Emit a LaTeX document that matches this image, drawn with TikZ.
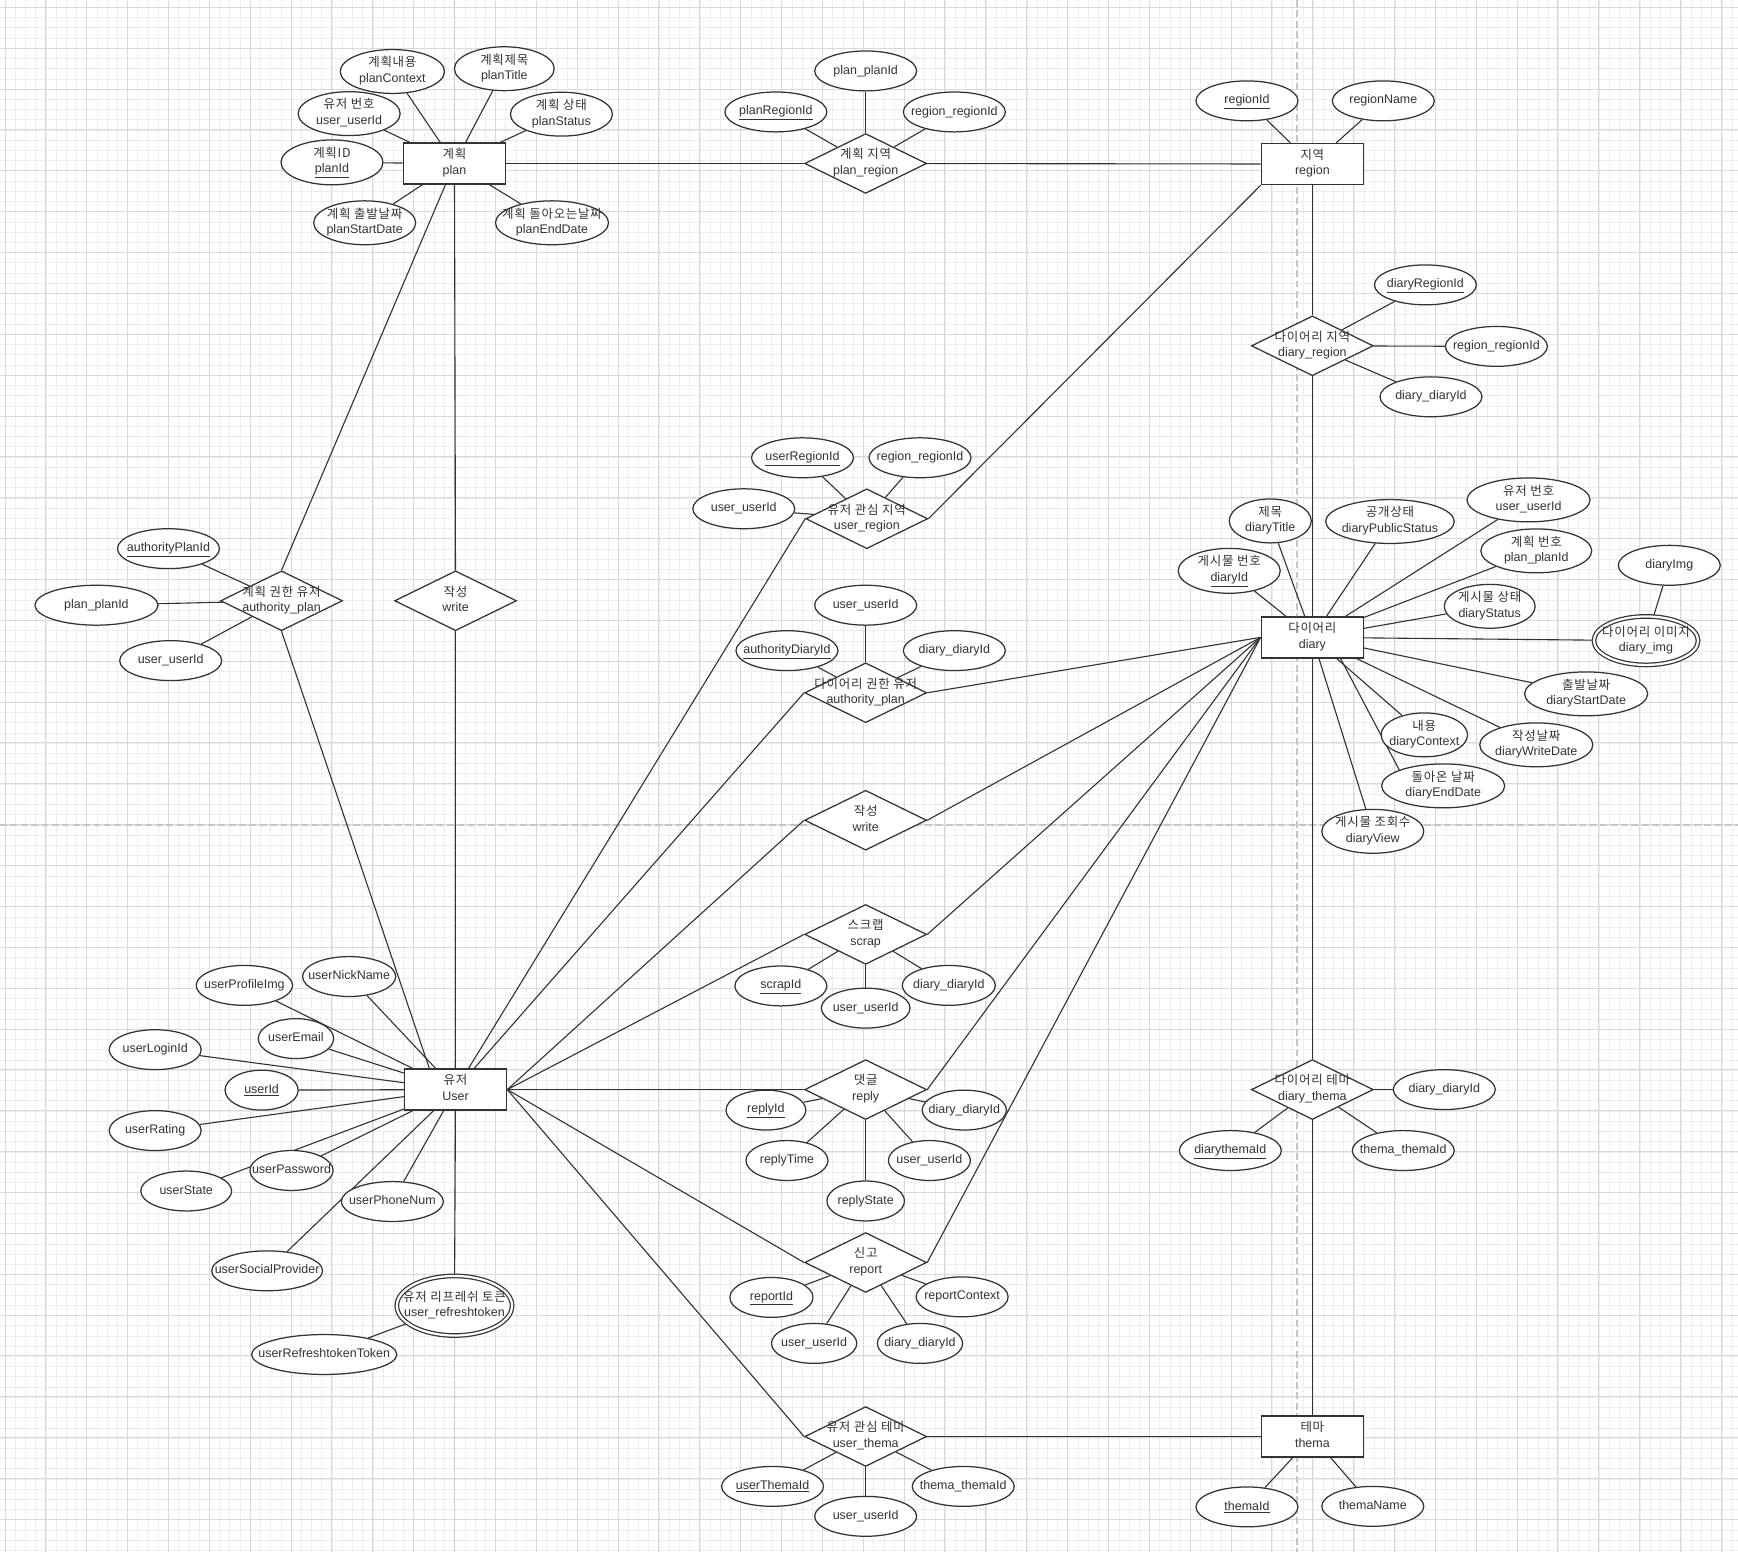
\documentclass[tikz,border=0pt]{standalone}
\usepackage{fontspec}
\setmainfont{Liberation Sans}
\newfontfamily\kr[Scale=1.0,LetterSpace=6]{Noto Sans CJK KR}
\usetikzlibrary{shapes.geometric}
\pgfdeclarelayer{gridlayer}
\pgfdeclarelayer{edges}
\pgfsetlayers{gridlayer,edges,main}

% text of a shape, centred, allowed to run over the border
\newcommand{\erlbl}[1]{\makebox[0pt]{\begin{tabular}{@{}c@{}}#1\end{tabular}}}

\begin{document}
\begin{tikzpicture}[
  x=0.8pt, y=-0.8pt,
  every node/.style={text=black!80, font=\fontsize{9}{11.2}\selectfont},
  ent/.style={draw=black!80, line width=1.1pt, fill=white, rectangle,
              minimum width=73.6pt, minimum height=29.6pt, inner sep=0pt},
  rel/.style={draw=black!80, line width=0.9pt, fill=white, diamond,
              minimum width=88pt, minimum height=43.2pt, inner sep=0pt},
  attr/.style={draw=black!80, line width=0.9pt, fill=white, ellipse,
               minimum width=#1*0.8pt, minimum height=28.8pt, inner sep=0pt},
  attr/.default=92,
  weak/.style={attr=#1, double=white, double distance=1.6pt},
  weak/.default=92,
  con/.style={draw=black!80, line width=0.8pt},
  gridminor/.style={draw=gray!14, line width=0.5pt},
  gridmajor/.style={draw=gray!30, line width=0.7pt},
  pagebreak/.style={draw=gray!45, line width=1.2pt, dash pattern=on 5pt off 2.5pt}
]
\useasboundingbox (0,0) rectangle (1568,1400);

\begin{pgfonlayer}{gridlayer}
\fill[white] (0,0) rectangle (1568,1400);
% Grid
\foreach \i in {0,...,169}
  \draw[gridminor] ({4.5+9.22*\i},0) -- ({4.5+9.22*\i},1400);
\foreach \j in {0,...,151}
  \draw[gridminor] (0,{6.6+9.22*\j}) -- (1568,{6.6+9.22*\j});
\foreach \i in {0,...,42}
  \draw[gridmajor] ({4.5+36.87*\i},0) -- ({4.5+36.87*\i},1400);
\foreach \j in {0,...,37}
  \draw[gridmajor] (0,{6.6+36.87*\j}) -- (1568,{6.6+36.87*\j});
% Page breaks
\draw[pagebreak] (410,0) -- (410,1400);
\draw[pagebreak] (1170,0) -- (1170,1400);
\draw[pagebreak] (0,744) -- (1568,744);
\end{pgfonlayer}

% Entities
\node[ent] (plan) at (410,147.5) {\erlbl{{\kr 계획}\\plan}};
\node[ent] (region) at (1184,148) {\erlbl{{\kr 지역}\\region}};
\node[ent] (diary) at (1184,575) {\erlbl{{\kr 다이어리}\\diary}};
\node[ent] (user) at (411,983) {\erlbl{{\kr 유저}\\User}};
\node[ent] (thema) at (1184,1296) {\erlbl{{\kr 테마}\\thema}};

% Relationships
\node[rel] (planregion) at (781,147.5) {\erlbl{{\kr 계획 지역}\\plan\_region}};
\node[rel] (diaryregion) at (1184,312) {\erlbl{{\kr 다이어리 지역}\\diary\_region}};
\node[rel] (userregion) at (782,468) {\erlbl{{\kr 유저 관심 지역}\\user\_region}};
\node[rel] (authdiary) at (781,625) {\erlbl{{\kr 다이어리 권한 유저}\\authority\_plan}};
\node[rel] (authplan) at (254,542) {\erlbl{{\kr 계획 권한 유저}\\authority\_plan}};
\node[rel] (writeplan) at (411,542) {\erlbl{{\kr 작성}\\write}};
\node[rel] (writediary) at (781,740) {\erlbl{{\kr 작성}\\write}};
\node[rel] (scrap) at (781,843) {\erlbl{{\kr 스크랩}\\scrap}};
\node[rel] (reply) at (781,983) {\erlbl{{\kr 댓글}\\reply}};
\node[rel] (report) at (781,1139) {\erlbl{{\kr 신고}\\report}};
\node[rel] (userthema) at (781,1296) {\erlbl{{\kr 유저 관심 테마}\\user\_thema}};
\node[rel] (diarythema) at (1184,983) {\erlbl{{\kr 다이어리 테마}\\diary\_thema}};

% Weak entities
\node[weak=94, minimum height=35pt] (diaryimg) at (1485,578)
      {\erlbl{{\kr 다이어리 이미지}\\diary\_img}};
\node[weak=104, minimum height=43pt] (refresh) at (410,1178)
      {\erlbl{{\kr 유저 리프레쉬 토큰}\\user\_refreshtoken}};

% Plan attributes
\node[attr=94] (planContext) at (354,64.5) {\erlbl{{\kr 계획내용}\\planContext}};
\node[attr=90] (planTitle) at (455,62) {\erlbl{{\kr 계획제목}\\planTitle}};
\node[attr] (planUser) at (315,102.5) {\erlbl{{\kr 유저 번호}\\user\_userId}};
\node[attr] (planStatus) at (506.5,103) {\erlbl{{\kr 계획 상태}\\planStatus}};
\node[attr] (planId) at (299.5,146.5) {\erlbl{{\kr 계획ID}\\\underline{planId}}};
\node[attr] (planStart) at (329,201) {\erlbl{{\kr 계획 출발날짜}\\planStartDate}};
\node[attr=102] (planEnd) at (498,201) {\erlbl{{\kr 계획 돌아오는날짜}\\planEndDate}};

% plan_region attributes
\node[attr] (prPlanId) at (781,64) {\erlbl{plan\_planId}};
\node[attr] (prId) at (700,101) {\erlbl{\underline{planRegionId}}};
\node[attr] (prRegionId) at (861,101) {\erlbl{region\_regionId}};

% Region attributes
\node[attr] (regionId) at (1125,91) {\erlbl{\underline{regionId}}};
\node[attr] (regionName) at (1248,91) {\erlbl{regionName}};

% diary_region attributes
\node[attr] (drId) at (1286,257) {\erlbl{\underline{diaryRegionId}}};
\node[attr] (drRegionId) at (1350,312.5) {\erlbl{region\_regionId}};
\node[attr] (drDiaryId) at (1291,358) {\erlbl{diary\_diaryId}};

% user_region attributes
\node[attr] (urId) at (724,413) {\erlbl{\underline{userRegionId}}};
\node[attr] (urRegionId) at (830,413) {\erlbl{region\_regionId}};
\node[attr] (urUserId) at (671,459) {\erlbl{user\_userId}};

% authority_plan (diary) attributes
\node[attr] (adUserId) at (781,546) {\erlbl{user\_userId}};
\node[attr] (adId) at (710,587) {\erlbl{\underline{authorityDiaryId}}};
\node[attr] (adDiaryId) at (861,587) {\erlbl{diary\_diaryId}};

% authority_plan (plan) attributes
\node[attr] (apId) at (152,495) {\erlbl{\underline{authorityPlanId}}};
\node[attr=111] (apPlanId) at (87,546) {\erlbl{plan\_planId}};
\node[attr] (apUserId) at (154,596) {\erlbl{user\_userId}};

% Diary attributes
\node[attr=74] (diaryTitle) at (1146,470) {\erlbl{{\kr 제목}\\diaryTitle}};
\node[attr=116] (diaryPublic) at (1254,470.5) {\erlbl{{\kr 공개상태}\\diaryPublicStatus}};
\node[attr=111] (diaryUser) at (1379,451) {\erlbl{{\kr 유저 번호}\\user\_userId}};
\node[attr] (diaryId) at (1109,515) {\erlbl{{\kr 게시물 번호}\\\underline{diaryId}}};
\node[attr=100] (diaryPlan) at (1386,497) {\erlbl{{\kr 계획 번호}\\plan\_planId}};
\node[attr=82] (diaryStatus) at (1344,547) {\erlbl{{\kr 게시물 상태}\\diaryStatus}};
\node[attr=111] (diaryStart) at (1431,626) {\erlbl{{\kr 출발날짜}\\diaryStartDate}};
\node[attr=78] (diaryContext) at (1285,663) {\erlbl{{\kr 내용}\\diaryContext}};
\node[attr=102] (diaryWrite) at (1386,672) {\erlbl{{\kr 작성날짜}\\diaryWriteDate}};
\node[attr=111] (diaryEnd) at (1302,709) {\erlbl{{\kr 돌아온 날짜}\\diaryEndDate}};
\node[attr] (diaryView) at (1238.5,750) {\erlbl{{\kr 게시물 조회수}\\diaryView}};
\node[attr] (diaryImgAttr) at (1506,510) {\erlbl{diaryImg}};

% scrap attributes
\node[attr=83] (scrapId) at (704.5,889.5) {\erlbl{\underline{scrapId}}};
\node[attr=80] (scUserId) at (781,909.5) {\erlbl{user\_userId}};
\node[attr=84] (scDiaryId) at (856,889) {\erlbl{diary\_diaryId}};

% reply attributes
\node[attr=72] (replyId) at (691,1001.5) {\erlbl{\underline{replyId}}};
\node[attr=76] (rpDiaryId) at (870,1001.5) {\erlbl{diary\_diaryId}};
\node[attr=74] (replyTime) at (710,1047) {\erlbl{replyTime}};
\node[attr=74] (rpUserId) at (838.5,1047) {\erlbl{user\_userId}};
\node[attr=70] (replyState) at (781,1083.5) {\erlbl{replyState}};

% report attributes
\node[attr=75] (reportId) at (696,1170.5) {\erlbl{\underline{reportId}}};
\node[attr=83] (reportContext) at (868,1170) {\erlbl{reportContext}};
\node[attr=77] (rtUserId) at (734.5,1212) {\erlbl{user\_userId}};
\node[attr=77] (rtDiaryId) at (830,1212) {\erlbl{diary\_diaryId}};

% user_thema attributes
\node[attr] (userThemaId) at (697,1341) {\erlbl{\underline{userThemaId}}};
\node[attr] (utThemaId) at (869,1341) {\erlbl{thema\_themaId}};
\node[attr] (utUserId) at (781,1368) {\erlbl{user\_userId}};

% diary_thema attributes
\node[attr] (dtDiaryId) at (1303,983) {\erlbl{diary\_diaryId}};
\node[attr] (diarythemaId) at (1110,1038) {\erlbl{\underline{diarythemaId}}};
\node[attr] (dtThemaId) at (1266,1038) {\erlbl{thema\_themaId}};

% Thema attributes
\node[attr] (themaId) at (1125,1359.5) {\erlbl{\underline{themaId}}};
\node[attr] (themaName) at (1238.5,1359) {\erlbl{themaName}};

% User attributes
\node[attr=87] (userProfileImg) at (220.5,889) {\erlbl{userProfileImg}};
\node[attr=84] (userNickName) at (315,881) {\erlbl{userNickName}};
\node[attr=68] (userEmail) at (267,937) {\erlbl{userEmail}};
\node[attr=83] (userLoginId) at (140,947) {\erlbl{userLoginId}};
\node[attr=66] (userId) at (236,983.5) {\erlbl{\underline{userId}}};
\node[attr=83] (userRating) at (140,1020) {\erlbl{userRating}};
\node[attr=75] (userPassword) at (263,1056) {\erlbl{userPassword}};
\node[attr=82] (userState) at (168,1074.5) {\erlbl{userState}};
\node[attr] (userPhoneNum) at (354,1084) {\erlbl{userPhoneNum}};
\node[attr=100] (userSocial) at (241,1146.5) {\erlbl{userSocialProvider}};
\node[attr=131] (userRefToken) at (292.5,1222) {\erlbl{userRefreshtokenToken}};

\begin{pgfonlayer}{edges}
% Entity - relationship lines
\draw[con] (plan) -- (planregion);
\draw[con] (planregion) -- (region);
\draw[con] (region) -- (diaryregion);
\draw[con] (diaryregion) -- (diary);
\draw[con] (region.south west) -- (userregion.east);
\draw[con] (userregion.west) -- (user);
\draw[con] (plan) -- (authplan.north);
\draw[con] (authplan.south) -- (user.141);
\draw[con] (plan) -- (writeplan);
\draw[con] (writeplan) -- (user);
\draw[con] (diary.west) -- (authdiary.east);
\draw[con] (authdiary.west) -- (user);
\draw[con] (diary.west) -- (writediary.east);
\draw[con] (writediary.west) -- (user.east);
\draw[con] (diary.west) -- (scrap.east);
\draw[con] (scrap.west) -- (user.east);
\draw[con] (diary.west) -- (reply.east);
\draw[con] (reply.west) -- (user.east);
\draw[con] (diary.west) -- (report.east);
\draw[con] (report.west) -- (user.east);
\draw[con] (userthema.west) -- (user.east);
\draw[con] (userthema) -- (thema);
\draw[con] (diary) -- (diarythema);
\draw[con] (diarythema) -- (thema);
\draw[con] (diary) -- (diaryimg);
\draw[con] (diaryimg) -- (diaryImgAttr);
\draw[con] (user) -- (refresh);
\draw[con] (refresh) -- (userRefToken);

% Plan attribute lines
\draw[con] (plan) -- (planContext);
\draw[con] (plan) -- (planTitle);
\draw[con] (plan) -- (planUser);
\draw[con] (plan) -- (planStatus);
\draw[con] (plan) -- (planId);
\draw[con] (plan) -- (planStart);
\draw[con] (plan) -- (planEnd);

% Relationship attribute lines
\draw[con] (planregion) -- (prPlanId);
\draw[con] (planregion) -- (prId);
\draw[con] (planregion) -- (prRegionId);
\draw[con] (region) -- (regionId);
\draw[con] (region) -- (regionName);
\draw[con] (diaryregion) -- (drId);
\draw[con] (diaryregion) -- (drRegionId);
\draw[con] (diaryregion) -- (drDiaryId);
\draw[con] (userregion) -- (urId);
\draw[con] (userregion) -- (urRegionId);
\draw[con] (userregion) -- (urUserId);
\draw[con] (authdiary) -- (adUserId);
\draw[con] (authdiary) -- (adId);
\draw[con] (authdiary) -- (adDiaryId);
\draw[con] (authplan) -- (apId);
\draw[con] (authplan) -- (apPlanId);
\draw[con] (authplan) -- (apUserId);
\draw[con] (scrap) -- (scrapId);
\draw[con] (scrap) -- (scUserId);
\draw[con] (scrap) -- (scDiaryId);
\draw[con] (reply) -- (replyId);
\draw[con] (reply) -- (rpDiaryId);
\draw[con] (reply) -- (replyTime);
\draw[con] (reply) -- (rpUserId);
\draw[con] (reply) -- (replyState);
\draw[con] (report) -- (reportId);
\draw[con] (report) -- (reportContext);
\draw[con] (report) -- (rtUserId);
\draw[con] (report) -- (rtDiaryId);
\draw[con] (userthema) -- (userThemaId);
\draw[con] (userthema) -- (utThemaId);
\draw[con] (userthema) -- (utUserId);
\draw[con] (diarythema) -- (dtDiaryId);
\draw[con] (diarythema) -- (diarythemaId);
\draw[con] (diarythema) -- (dtThemaId);
\draw[con] (thema) -- (themaId);
\draw[con] (thema) -- (themaName);

% Diary attribute lines
\draw[con] (diary) -- (diaryTitle);
\draw[con] (diary) -- (diaryPublic);
\draw[con] (diary) -- (diaryUser);
\draw[con] (diary) -- (diaryId);
\draw[con] (diary) -- (diaryPlan);
\draw[con] (diary) -- (diaryStatus);
\draw[con] (diary) -- (diaryStart);
\draw[con] (diary) -- (diaryContext);
\draw[con] (diary) -- (diaryWrite);
\draw[con] (diary.-37) -- (diaryEnd.160);
\draw[con] (diary) -- (diaryView);

% User attribute lines
\draw[con] (user) -- (userProfileImg);
\draw[con] (user) -- (userNickName);
\draw[con] (user) -- (userEmail);
\draw[con] (user) -- (userLoginId);
\draw[con] (user) -- (userId);
\draw[con] (user) -- (userRating);
\draw[con] (user) -- (userPassword);
\draw[con] (user) -- (userState);
\draw[con] (user) -- (userPhoneNum);
\draw[con] (user) -- (userSocial);
\end{pgfonlayer}

\end{tikzpicture}
\end{document}
